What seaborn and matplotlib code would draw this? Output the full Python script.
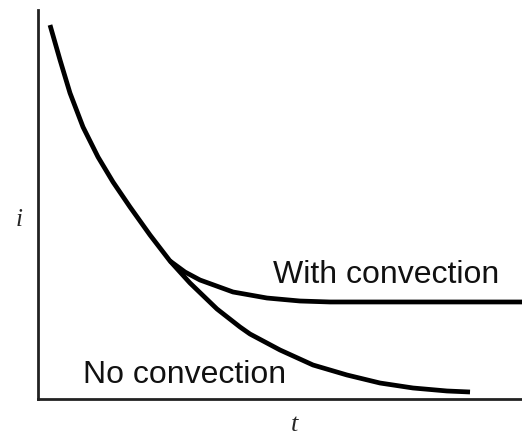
import matplotlib
matplotlib.use("Agg")
import matplotlib.pyplot as plt
import seaborn as sns
import pandas as pd

# Data (arbitrary units)
t_no_conv = [0.248, 0.455, 0.661, 0.930, 1.240, 1.550, 1.901, 2.314, 2.727, 3.140,
             3.698, 4.174, 4.380, 5.000, 5.682, 6.384, 7.066, 7.748, 8.450, 8.926]
i_no_conv = [9.614, 8.715, 7.866, 6.992, 6.221, 5.578, 4.936, 4.216, 3.548, 2.982,
             2.314, 1.851, 1.671, 1.260, 0.874, 0.617, 0.411, 0.283, 0.206, 0.180]

t_with_conv = [2.727, 3.037, 3.347, 4.029, 4.731, 5.413, 6.033, 10.0]
i_with_conv = [3.548, 3.265, 3.059, 2.751, 2.596, 2.519, 2.494, 2.494]

labels = ["No convection", "With convection"]

df = pd.concat([
    pd.DataFrame({"t": t_no_conv, "i": i_no_conv, "case": labels[0]}),
    pd.DataFrame({"t": t_with_conv, "i": i_with_conv, "case": labels[1]}),
])

sns.set_style("white")
fig = plt.figure(figsize=(5.22, 4.37), dpi=100)
ax = fig.add_axes([38 / 522, 38 / 437, 484 / 522, 389 / 437])

sns.lineplot(data=df, x="t", y="i", hue="case", palette=["black", "black"],
             sort=False, estimator=None, linewidth=3.4, legend=False, ax=ax,
             solid_capstyle="butt", solid_joinstyle="round")

ax.set_xlim(0, 10)
ax.set_ylim(0, 10)
ax.set_xticks([])
ax.set_yticks([])
for side in ["top", "right"]:
    ax.spines[side].set_visible(False)
for side in ["left", "bottom"]:
    ax.spines[side].set_color("#222222")
    ax.spines[side].set_linewidth(2.0)

ax.text(4.86, 2.98, labels[1], fontsize=23, family="Liberation Sans",
        ha="left", va="baseline", color="#111111")
ax.text(0.93, 0.41, labels[0], fontsize=23, family="Liberation Sans",
        ha="left", va="baseline", color="#111111")

ax.set_xlabel("t", fontsize=19, family="Liberation Serif", style="italic")
ax.set_ylabel("i", fontsize=18, family="Liberation Serif", style="italic", rotation=0)
ax.xaxis.label.set_va("center")
ax.yaxis.label.set_va("center")
ax.yaxis.label.set_ha("center")
ax.xaxis.set_label_coords(0.529, -0.066)
ax.yaxis.set_label_coords(-0.039, 0.46)

fig.savefig("out.png", dpi=100)
